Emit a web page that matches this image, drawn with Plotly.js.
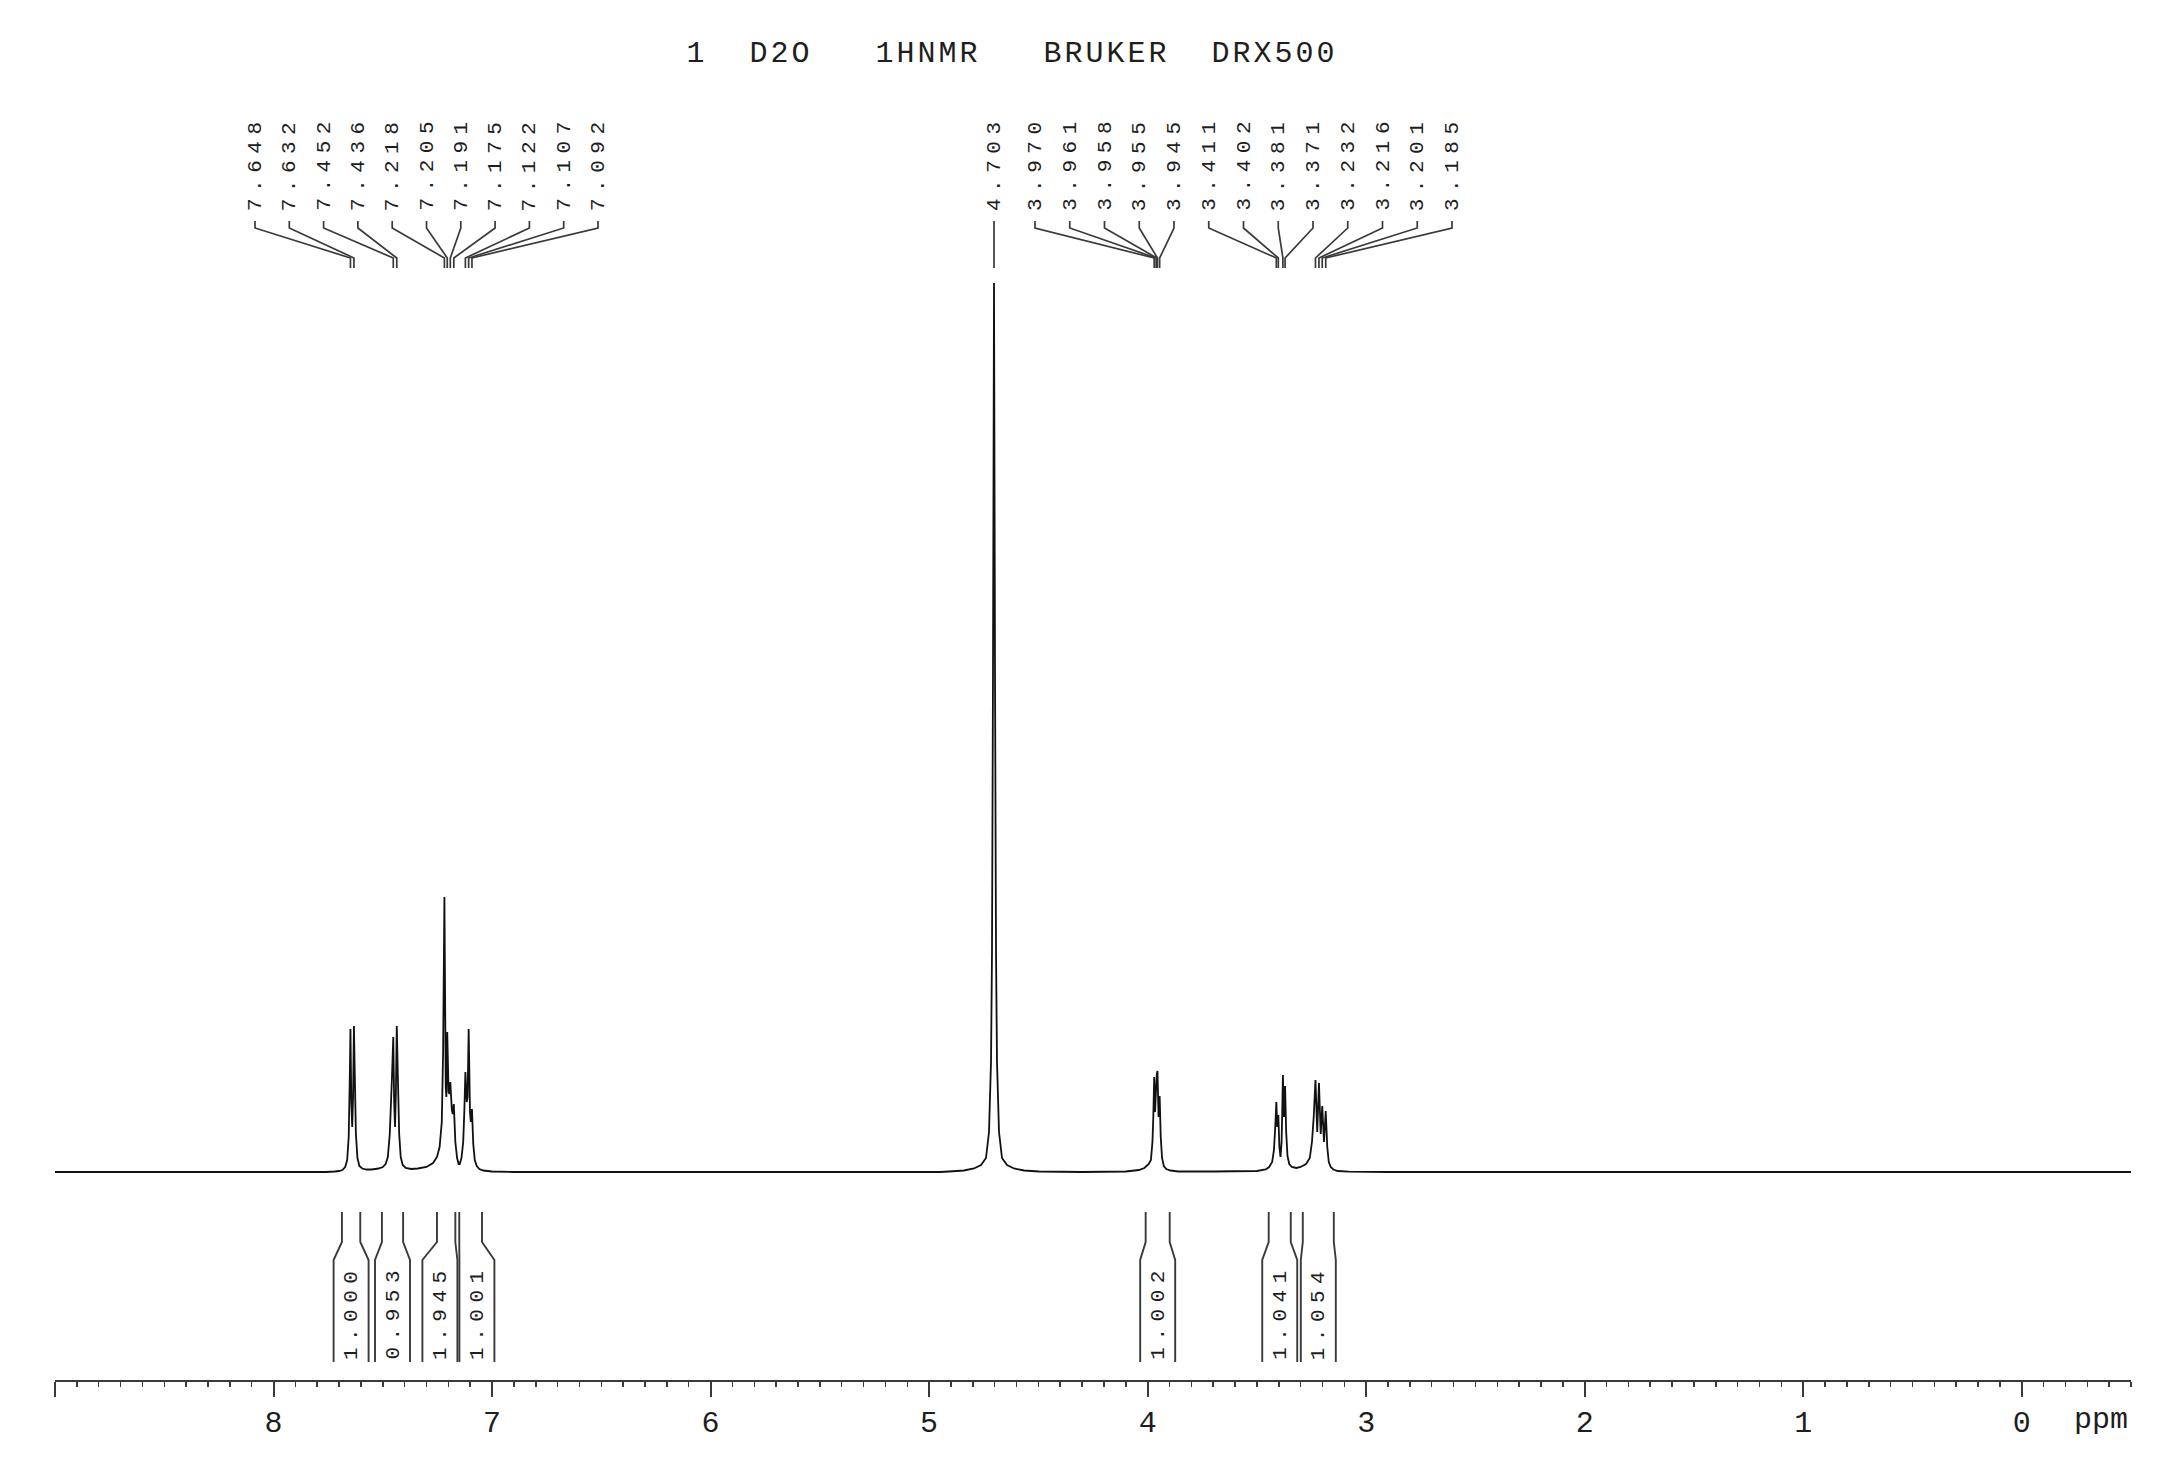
<!DOCTYPE html>
<html><head><meta charset="utf-8">
<script src="https://cdn.plot.ly/plotly-3.0.1.min.js"></script>
<style>html,body{margin:0;padding:0;background:#fff;} #chart{width:2169px;height:1476px;}</style>
</head><body><div id="chart"></div>
<script>
// ---------------- data ----------------
const titleText = "1\u00A0\u00A0D2O\u00A0\u00A0\u00A01HNMR\u00A0\u00A0\u00A0BRUKER\u00A0\u00A0DRX500";

// spectrum vertices (ppm, intensity a.u.)
const specPpm = [
  9.000, 7.760, 7.720, 7.700, 7.685, 7.672, 7.663, 7.656, 7.651, 7.648, 7.644, 7.640, 7.636, 7.632, 7.628, 7.623, 7.616, 7.607, 7.594, 7.575,
  7.550, 7.520, 7.500, 7.487, 7.477, 7.468, 7.458, 7.452, 7.448, 7.444, 7.440, 7.436, 7.431, 7.425, 7.418, 7.409, 7.395, 7.370, 7.340,
  7.300, 7.270, 7.252, 7.240, 7.230, 7.224, 7.218, 7.212, 7.209, 7.205, 7.199, 7.195, 7.191, 7.184, 7.180, 7.175, 7.168, 7.160, 7.153,
  7.148, 7.140, 7.132, 7.127, 7.122, 7.116, 7.112, 7.107, 7.101, 7.097, 7.092, 7.086, 7.079, 7.070, 7.058, 7.040, 7.000, 6.900,
  4.950, 4.9091, 4.8404, 4.7946, 4.7625, 4.7396, 4.7259, 4.7167, 4.7122, 4.7076, 4.703, 4.6984, 4.6938, 4.6893, 4.6801, 4.6664, 4.6435, 4.6114, 4.5656, 4.4969, 4.300,
  4.100, 4.040, 4.015, 3.995, 3.985, 3.978, 3.974, 3.970, 3.966, 3.961, 3.958, 3.955, 3.950, 3.945, 3.940, 3.934, 3.926, 3.915, 3.895, 3.860,
  3.700, 3.500, 3.460, 3.444, 3.430, 3.422, 3.416, 3.411, 3.407, 3.402, 3.397, 3.392, 3.387, 3.384, 3.381, 3.376, 3.371, 3.366, 3.360, 3.352, 3.340, 3.320,
  3.300, 3.275, 3.258, 3.248, 3.240, 3.232, 3.224, 3.216, 3.208, 3.201, 3.193, 3.185, 3.178, 3.171, 3.162, 3.150, 3.130, 3.080, 2.900, -0.500
];
const specInt = [
  0, 0, 0.5, 1, 2, 5, 12, 35, 95, 143, 70, 45, 75, 146, 95, 38, 14, 6, 3.5, 2.5,
  2.5, 3.5, 5, 8, 15, 38, 95, 135, 70, 45, 80, 146, 95, 38, 15, 7, 4, 3, 3.5,
  5, 9, 15, 25, 50, 120, 275, 85, 75, 140, 80, 78, 90, 62, 58, 68, 30, 14, 8,
  8, 14, 30, 60, 100, 70, 75, 143, 60, 50, 63, 28, 12, 6, 3, 1.5, 0.5, 0,
  0, 0.5, 1.5, 3.5, 7, 14, 40, 110, 220, 500, 889, 500, 220, 110, 40, 14, 7, 3.5, 1.5, 0.5, 0,
  0.5, 2, 4, 8, 12, 30, 55, 95, 60, 85, 98, 101, 55, 76, 35, 14, 6, 3, 1.5, 0.5,
  0.5, 1, 2.5, 5, 10, 22, 45, 70, 45, 57, 25, 15, 30, 60, 97, 55, 86, 40, 16, 8, 5, 4,
  5, 8, 14, 30, 55, 92, 40, 89, 38, 66, 30, 61, 25, 10, 5, 2.5, 1, 0.3, 0, 0
];

// picked peaks (ppm), by label cluster
const peaksAromatic = [7.648, 7.632, 7.452, 7.436, 7.218, 7.205, 7.191, 7.175, 7.122, 7.107, 7.092];
const peaksSolvent  = [4.703];
const peaksAliphatic = [3.970, 3.961, 3.958, 3.955, 3.945, 3.411, 3.402, 3.381, 3.371, 3.232, 3.216, 3.201, 3.185];

// integrals
const integralFrom   = [7.687, 7.504, 7.252, 7.150, 4.009, 3.446, 3.290];
const integralTo     = [7.603, 7.407, 7.168, 7.046, 3.899, 3.345, 3.148];
const integralValues = ["1.000", "0.953", "1.945", "1.001", "1.002", "1.041", "1.054"];

// axis
const axisTickVals = [9, 8, 7, 6, 5, 4, 3, 2, 1, 0];
const axisTickText = ["", "8", "7", "6", "5", "4", "3", "2", "1", "0"];

// ---------------- layout geometry ----------------
const W = 2169, H = 1476;
const L = 55, R = 2131, T = 40, B = 1380;
const X_LEFT = 9.0, X_RIGHT = -0.5;
const BASE_PX = 1172;                     // spectrum baseline (pixel row)
const pxPerPpm = (R - L) / (X_LEFT - X_RIGHT);
const ppmAtPx = px => X_LEFT - (px - L) / pxPerPpm;
const py = pix => (B - pix) / (B - T);    // pixel row -> paper y

const FONT = "Liberation Mono, DejaVu Sans Mono, monospace";
const INK = "#1e1e1e";
const LINE = "#3a3a3a";

const shapes = [];
const annotations = [];

// peak labels
const clusters = [
  {peaks: peaksAromatic, firstPx: 255, step: 34.3},
  {peaks: peaksSolvent, firstPx: 994, step: 0},
  {peaks: peaksAliphatic, firstPx: 1035, step: 34.75}
];
clusters.forEach(c => {
  c.peaks.forEach((p, i) => {
    const lx = ppmAtPx(c.firstPx + i * c.step);
    shapes.push({
      type: "path", xref: "x", yref: "paper",
      path: `M ${lx},${py(221)} L ${lx},${py(228)} L ${p},${py(258)} L ${p},${py(268)}`,
      line: {color: LINE, width: 1.7}
    });
    annotations.push({
      x: lx, xref: "x", y: py(163), yref: "paper",
      text: `<span style="letter-spacing:6.5px">${p.toFixed(3)}</span>`,
      textangle: -90, showarrow: false, xanchor: "center", yanchor: "middle",
      font: {family: FONT, size: 21, color: INK}
    });
  });
});

// integral brackets
const halfW = 17.5 / pxPerPpm, gapP = 2 / pxPerPpm;
const lowL = [], lowR = [];
integralFrom.forEach((a, i) => {
  const c = (a + integralTo[i]) / 2;
  lowL.push(c + halfW); lowR.push(c - halfW);
});
for (let i = 1; i < lowL.length; i++) {
  const overlap = lowL[i] + gapP - lowR[i - 1];   // in ppm (descending)
  if (overlap > 0) {
    lowL[i - 1] += overlap / 2; lowR[i - 1] += overlap / 2;
    lowL[i] -= overlap / 2; lowR[i] -= overlap / 2;
  }
}
integralFrom.forEach((a, i) => {
  const b = integralTo[i];
  [[a, lowL[i]], [b, lowR[i]]].forEach(([up, low]) => {
    shapes.push({
      type: "path", xref: "x", yref: "paper",
      path: `M ${up},${py(1212)} L ${up},${py(1242)} L ${low},${py(1260)} L ${low},${py(1362)}`,
      line: {color: LINE, width: 1.9}
    });
  });
  annotations.push({
    x: (lowL[i] + lowR[i]) / 2, xref: "x", y: py(1312), yref: "paper",
    text: `<span style="letter-spacing:6.5px">${integralValues[i]}</span>`,
    textangle: -90, showarrow: false, xanchor: "center", yanchor: "middle",
    font: {family: FONT, size: 21, color: INK}
  });
});

// axis unit
annotations.push({
  x: ppmAtPx(2101), xref: "x", y: py(1420), yref: "paper",
  text: "ppm", showarrow: false, xanchor: "center", yanchor: "middle",
  font: {family: FONT, size: 30, color: INK}
});

const traces = [{
  type: "scatter", mode: "lines",
  x: specPpm, y: specInt,
  line: {color: "#111", width: 1.8, simplify: false},
  hoverinfo: "skip", showlegend: false
}];

const layout = {
  width: W, height: H,
  margin: {l: L, r: W - R, t: T, b: H - B, pad: 0},
  paper_bgcolor: "#fff", plot_bgcolor: "#fff",
  showlegend: false,
  title: {
    text: `<span style="letter-spacing:3px">${titleText}</span>`,
    x: 1012 / W, xref: "container", xanchor: "center",
    y: 1 - 51 / H, yref: "container", yanchor: "middle",
    font: {family: FONT, size: 30, color: INK}
  },
  xaxis: {
    range: [X_LEFT, X_RIGHT], autorange: false,
    tickmode: "array", tickvals: axisTickVals, ticktext: axisTickText,
    ticks: "outside", ticklen: 15, tickwidth: 2, tickcolor: LINE,
    showline: true, linecolor: LINE, linewidth: 2,
    showgrid: false, zeroline: false,
    tickfont: {family: FONT, size: 30, color: INK},
    ticklabelstandoff: -1,
    minor: {tickmode: "linear", tick0: 0, dtick: 0.1, ticks: "outside", ticklen: 5, tickwidth: 1.5, tickcolor: LINE, showgrid: false}
  },
  yaxis: {
    range: [-(B - BASE_PX), BASE_PX - T], autorange: false,
    visible: false, showgrid: false, zeroline: false
  },
  shapes: shapes,
  annotations: annotations
};

Plotly.newPlot("chart", traces, layout, {staticPlot: true, displayModeBar: false});
</script>
</body></html>
